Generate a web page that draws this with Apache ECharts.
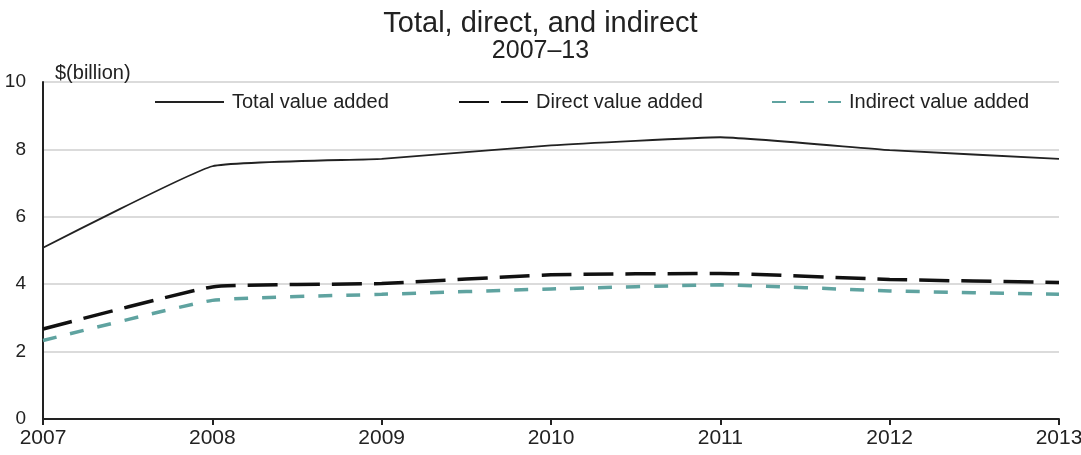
<!DOCTYPE html>
<html><head><meta charset="utf-8">
<script src="https://cdn.jsdelivr.net/npm/echarts@6/dist/echarts.min.js"></script>
<style>html,body{margin:0;padding:0;background:#fff}#c{width:1081px;height:455px}</style>
</head><body><div id="c"></div>
<script>
const years = ['2007','2008','2009','2010','2011','2012','2013'];
const totalVA = [5.08, 7.5, 7.72, 8.12, 8.36, 7.98, 7.72];
const directVA = [2.67, 3.92, 4.02, 4.28, 4.32, 4.14, 4.05];
const indirectVA = [2.33, 3.52, 3.7, 3.86, 3.98, 3.8, 3.7];
const yTicks = [0, 2, 4, 6, 8, 10];
const seriesNames = ['Total value added', 'Direct value added', 'Indirect value added'];

const font = 'Liberation Sans, Arial, sans-serif';
const chart = echarts.init(document.getElementById('c'));
const legendBase = {top: 87, itemWidth: 69, itemHeight: 20, itemGap: 6,
  itemStyle: {opacity: 0},
  textStyle: {fontFamily: font, fontSize: 20, color: '#222', padding: [0, 0, 0, 3]}};
chart.setOption({
  animation: false,
  title: [
    {text: 'Total, direct, and indirect', left: 'center', top: 4, textStyle: {fontFamily: font, fontSize: 29, fontWeight: 'normal', color: '#222'}},
    {text: '2007–13', left: 'center', top: 34, textStyle: {fontFamily: font, fontSize: 25, fontWeight: 'normal', color: '#222'}},
    {text: '$(billion)', left: 50, top: 58, textStyle: {fontFamily: font, fontSize: 20, fontWeight: 'normal', color: '#222'}}
  ],
  legend: [
    Object.assign({}, legendBase, {left: 149, data: [seriesNames[0]]}),
    Object.assign({}, legendBase, {left: 453, data: [seriesNames[1]]}),
    Object.assign({}, legendBase, {left: 766, data: [seriesNames[2]]})
  ],
  grid: {left: 43, right: 22, top: 82, bottom: 36, containLabel: false, outerBoundsMode: 'none'},
  xAxis: {
    type: 'category', data: years, boundaryGap: false,
    axisLine: {lineStyle: {color: '#222', width: 2}},
    axisTick: {show: true, length: 6, lineStyle: {color: '#222', width: 2}},
    axisLabel: {fontFamily: font, fontSize: 21, color: '#222', margin: 9}
  },
  yAxis: {
    type: 'value', min: yTicks[0], max: yTicks[yTicks.length-1], interval: 2,
    axisLine: {show: true, lineStyle: {color: '#222', width: 2}},
    axisTick: {show: false},
    splitLine: {lineStyle: {color: '#cfcfcf', width: 1.5}},
    axisLabel: {fontFamily: font, fontSize: 19, color: '#222', margin: 17}
  },
  series: [
    {name: seriesNames[0], type: 'line', data: totalVA, smooth: 0.12, symbol: 'none',
      lineStyle: {color: '#222', width: 1.8}, itemStyle: {color: '#222'}},
    {name: seriesNames[1], type: 'line', data: directVA, smooth: 0.12, symbol: 'none',
      lineStyle: {color: '#111', width: 3.5, type: [30, 12]}, itemStyle: {color: '#111'}},
    {name: seriesNames[2], type: 'line', data: indirectVA, smooth: 0.12, symbol: 'none',
      lineStyle: {color: '#5fa3a0', width: 3.5, type: [14, 14]}, itemStyle: {color: '#5fa3a0'}}
  ]
});
</script></body></html>
